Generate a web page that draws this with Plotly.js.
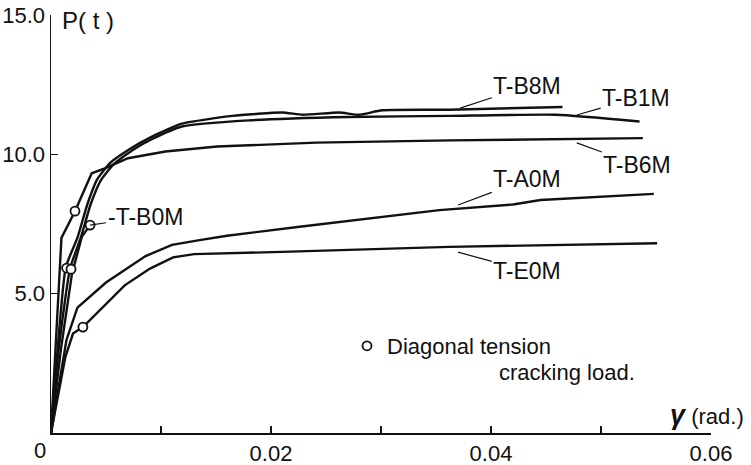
<!DOCTYPE html>
<html>
<head>
<meta charset="utf-8">
<script src="https://cdn.plot.ly/plotly-3.0.1.min.js"></script>
<style>
  html, body { margin: 0; padding: 0; background: #fff; }
  #chart { width: 751px; height: 465px; }
</style>
</head>
<body>
<div id="chart"></div>
<script>
// Shear deformation γ (rad.) and load P (t) for each specimen
const xB8M = [0, 0.0006, 0.00134, 0.0024, 0.0033, 0.0042, 0.0054, 0.0072, 0.0090, 0.0119, 0.0165, 0.0210, 0.0229, 0.0262, 0.0280, 0.0301, 0.0362, 0.0465];
const yB8M = [0, 3.0, 5.95, 7.0, 8.2, 9.1, 9.7, 10.2, 10.6, 11.1, 11.38, 11.5, 11.42, 11.5, 11.42, 11.58, 11.6, 11.7];

const xB1M = [0, 0.0007, 0.00173, 0.0027, 0.0036, 0.0045, 0.0057, 0.0074, 0.0092, 0.0119, 0.0180, 0.0271, 0.0362, 0.0459, 0.0535];
const yB1M = [0, 3.0, 5.9, 7.0, 8.2, 9.05, 9.65, 10.15, 10.55, 11.0, 11.22, 11.34, 11.38, 11.42, 11.18];

const xB6M = [0, 0.00095, 0.00218, 0.0037, 0.0049, 0.0070, 0.0104, 0.0151, 0.0241, 0.0363, 0.0538];
const yB6M = [0, 7.0, 7.96, 9.32, 9.5, 9.86, 10.1, 10.28, 10.42, 10.5, 10.58];

const xB0M = [0, 0.0009, 0.0019, 0.0028, 0.00355];
const yB0M = [0, 3.0, 5.7, 7.04, 7.46];

const xA0M = [0, 0.0014, 0.0024, 0.0050, 0.0086, 0.0110, 0.0135, 0.0160, 0.0226, 0.0271, 0.0353, 0.0420, 0.0445, 0.0548];
const yA0M = [0, 3.33, 4.5, 5.4, 6.35, 6.75, 6.92, 7.08, 7.4, 7.62, 8.0, 8.2, 8.36, 8.58];

const xE0M = [0, 0.0013, 0.0020, 0.0029, 0.0067, 0.0090, 0.0111, 0.0130, 0.0210, 0.0362, 0.0551];
const yE0M = [0, 2.72, 3.57, 3.8, 5.3, 5.9, 6.3, 6.42, 6.5, 6.68, 6.81];

// Diagonal tension cracking loads (open circles)
const crackX = [0.00218, 0.00355, 0.00142, 0.00182, 0.0029];
const crackY = [7.96, 7.46, 5.92, 5.88, 3.8];

// Axis ticks
const xTickVals = [0.01, 0.02, 0.03, 0.04, 0.05, 0.06];
const xTickText = ['', '0.02', '', '0.04', '', '0.06'];
const yTickVals = [5, 10, 15];
const yTickText = ['5.0', '10.0', '15.0'];

const FONT = 'Liberation Sans, Arial, sans-serif';

function curve(x, y, name, smooth) {
  const line = { color: '#111', width: 2.4 };
  if (smooth) { line.shape = 'spline'; line.smoothing = 0.5; }
  return { x: x, y: y, name: name, type: 'scatter', mode: 'lines', line: line, showlegend: false, hoverinfo: 'skip' };
}

const data = [
  curve(xB8M, yB8M, 'T-B8M', true),
  curve(xB1M, yB1M, 'T-B1M', true),
  curve(xB6M, yB6M, 'T-B6M', false),
  curve(xB0M, yB0M, 'T-B0M', false),
  curve(xA0M, yA0M, 'T-A0M', false),
  curve(xE0M, yE0M, 'T-E0M', false),
  {
    x: crackX, y: crackY, type: 'scatter', mode: 'markers',
    name: 'Diagonal tension',
    marker: { symbol: 'circle', size: 9, color: '#fff', line: { color: '#111', width: 1.8 } },
    showlegend: true, hoverinfo: 'skip'
  }
];

function label(text, x, y, ax, ay) {
  return {
    text: text, x: x, y: y, ax: ax, ay: ay, xref: 'x', yref: 'y', axref: 'x', ayref: 'y',
    showarrow: true, arrowhead: 0, arrowwidth: 1.2, arrowcolor: '#111',
    font: { family: FONT, size: 23, color: '#111' }
  };
}

const layout = {
  width: 751, height: 465,
  margin: { l: 51, r: 40, t: 15, b: 32 },
  paper_bgcolor: '#fff', plot_bgcolor: '#fff',
  font: { family: FONT, size: 22, color: '#111' },
  xaxis: {
    range: [0, 0.06], tickvals: xTickVals, ticktext: xTickText,
    ticks: 'inside', ticklen: 7, tickwidth: 1.5, tickcolor: '#111',
    showline: true, linewidth: 1.5, linecolor: '#111',
    showgrid: false, zeroline: false, fixedrange: true,
    tickfont: { family: FONT, size: 22, color: '#111' }
  },
  yaxis: {
    range: [0, 15], tickvals: yTickVals, ticktext: yTickText,
    ticks: 'inside', ticklen: 7, tickwidth: 1.5, tickcolor: '#111',
    showline: true, linewidth: 1.5, linecolor: '#111',
    showgrid: false, zeroline: false, fixedrange: true,
    tickfont: { family: FONT, size: 22, color: '#111' }
  },
  showlegend: true,
  legend: {
    x: (347 - 51) / 660, y: (433 - 346) / 418, xanchor: 'left', yanchor: 'middle',
    bgcolor: 'rgba(0,0,0,0)', borderwidth: 0,
    font: { family: FONT, size: 22, color: '#111' }
  },
  annotations: [
    label('T-B8M', 0.0372, 11.66, 0.0433, 12.45),
    label('T-B1M', 0.0478, 11.41, 0.0532, 12.02),
    label('T-B6M', 0.0478, 10.41, 0.0533, 9.62),
    label('T-A0M', 0.0370, 8.18, 0.0433, 9.11),
    label('T-E0M', 0.0370, 6.49, 0.0433, 5.81),
    label('-T-B0M', 0.00355, 7.46, 0.00855, 7.75),
    { text: 'cracking load.', xref: 'paper', yref: 'paper', x: (497 - 51) / 660, y: (433 - 372) / 418,
      xanchor: 'left', yanchor: 'middle', showarrow: false, font: { family: FONT, size: 22, color: '#111' } },
    { text: 'P( t )', xref: 'paper', yref: 'paper', x: 9 / 660, y: (433 - 20) / 418,
      xanchor: 'left', yanchor: 'middle', showarrow: false, font: { family: FONT, size: 24, color: '#111' } },
    { text: '<b><i><span style="font-size:27px">γ</span></i></b> (rad.)', xref: 'paper', yref: 'paper', x: (668 - 51) / 660, y: (433 - 415) / 418,
      xanchor: 'left', yanchor: 'middle', showarrow: false, font: { family: FONT, size: 22, color: '#111' } },
    { text: '0', xref: 'paper', yref: 'paper', x: (40 - 51) / 660, y: (433 - 450) / 418,
      xanchor: 'center', yanchor: 'middle', showarrow: false, font: { family: FONT, size: 22, color: '#111' } }
  ]
};

Plotly.newPlot('chart', data, layout, { staticPlot: true, displayModeBar: false });
</script>
</body>
</html>
